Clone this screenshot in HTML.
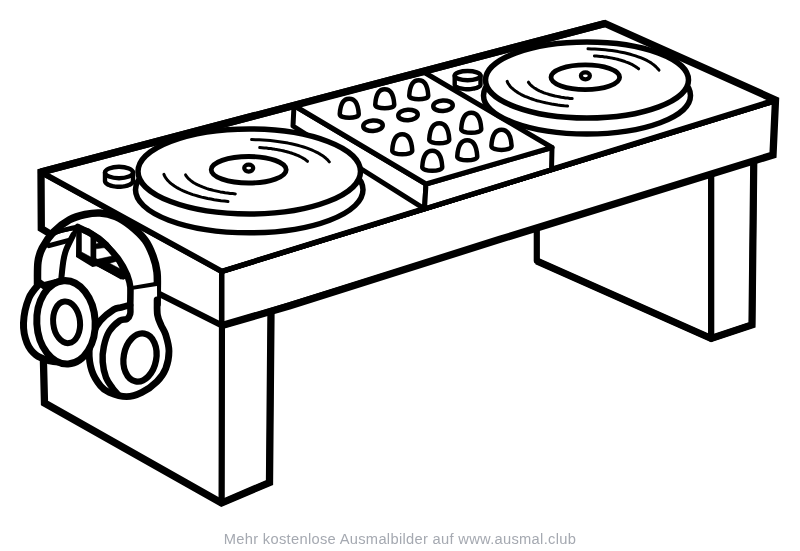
<!DOCTYPE html>
<html><head><meta charset="utf-8"><title>DJ Pult Ausmalbild</title>
<style>
html,body{margin:0;padding:0;background:#fff;}
body{width:800px;height:551px;overflow:hidden;position:relative;font-family:"Liberation Sans",sans-serif;}
svg{position:absolute;left:0;top:0;display:block}
.cap{position:absolute;left:0;width:800px;top:530.5px;text-align:center;font-size:14.7px;line-height:17px;color:#a5a9b1;opacity:0.999;will-change:transform;letter-spacing:0.3px;white-space:nowrap}
</style></head><body>
<svg width="800" height="551" viewBox="0 0 800 551">
<polygon points="536.8,225.0 536.8,261.0 711.2,338.5 711.2,172.0" fill="#fff" stroke="#000" stroke-width="6.2" stroke-linejoin="round"/>
<polygon points="711.2,172.0 753.8,158.0 752.0,324.8 711.2,338.5" fill="#fff" stroke="#000" stroke-width="6.2" stroke-linejoin="round"/>
<polyline points="536.8,261.0 711.2,338.5 752.0,324.8 753.8,158.0" fill="none" stroke="#000" stroke-width="7.2" stroke-linecap="butt" stroke-linejoin="miter"/>
<polygon points="222.0,325.5 271.0,311.0 269.5,482.5 221.5,503.0" fill="#fff" stroke="#000" stroke-width="6" stroke-linejoin="round"/>
<polygon points="41.0,172.0 222.0,271.3 221.5,503.0 44.5,403.0" fill="#fff"/>
<polyline points="41.0,172.0 222.0,271.3 221.5,503.0" fill="none" stroke="#000" stroke-width="6" stroke-linecap="round" stroke-linejoin="round"/>
<polygon points="222.0,271.3 775.0,101.0 773.0,155.0 222.0,325.5" fill="#fff" stroke="#000" stroke-width="5" stroke-linejoin="round"/>
<polygon points="41.0,172.0 605.0,23.5 775.5,100.0 222.0,271.3" fill="#fff" stroke="#000" stroke-width="5.5" stroke-linejoin="round"/>
<polyline points="222.0,271.3 775.0,101.0" fill="none" stroke="#000" stroke-width="5" stroke-linecap="round" stroke-linejoin="round"/>
<polyline points="150.0,289.3 222.0,325.5" fill="none" stroke="#000" stroke-width="6" stroke-linecap="round" stroke-linejoin="round"/>
<polyline points="271.0,311.0 269.5,482.5 221.5,503.0 44.5,403.0 43.2,352.0" fill="none" stroke="#000" stroke-width="7.3" stroke-linecap="butt" stroke-linejoin="miter"/>
<polyline points="52.0,235.0 41.3,228.5 41.0,172.0 605.0,23.5 775.5,100.0 773.0,155.0 500.0,239.3 290.0,305.7 222.0,325.5" fill="none" stroke="#000" stroke-width="7.3" stroke-linecap="butt" stroke-linejoin="miter"/>
<polygon points="294.0,105.5 426.0,184.0 424.5,208.8 293.0,126.0" fill="#fff" stroke="#000" stroke-width="5" stroke-linejoin="round"/>
<polygon points="426.0,184.0 552.0,147.5 551.5,169.7 424.5,208.8" fill="#fff" stroke="#000" stroke-width="5" stroke-linejoin="round"/>
<polygon points="294.0,105.5 424.5,72.5 552.0,147.5 426.0,184.0" fill="#fff" stroke="#000" stroke-width="5" stroke-linejoin="round"/>
<polyline points="222.0,271.3 775.0,101.0" fill="none" stroke="#000" stroke-width="5" stroke-linecap="round" stroke-linejoin="round"/>
<polyline points="41.0,172.0 605.0,23.5" fill="none" stroke="#000" stroke-width="7.3" stroke-linecap="butt" stroke-linejoin="round"/>
<path d="M339.75 114.05 C340.25 105.75 342.75 98.75 349.25 98.75 C355.75 98.75 358.25 105.75 358.75 114.05 C359.05 119.05 339.45 119.05 339.75 114.05Z" fill="#fff" stroke="#000" stroke-width="4.5" stroke-linecap="round" stroke-linejoin="round"/>
<path d="M375.25 104.55 C375.75 96.25 378.25 89.25 384.75 89.25 C391.25 89.25 393.75 96.25 394.25 104.55 C394.55 109.55 374.95 109.55 375.25 104.55Z" fill="#fff" stroke="#000" stroke-width="4.5" stroke-linecap="round" stroke-linejoin="round"/>
<path d="M409.25 95.55 C409.75 87.25 412.25 80.25 418.75 80.25 C425.25 80.25 427.75 87.25 428.25 95.55 C428.55 100.55 408.95 100.55 409.25 95.55Z" fill="#fff" stroke="#000" stroke-width="4.5" stroke-linecap="round" stroke-linejoin="round"/>
<path d="M392.25 150.36 C392.78 141.62 395.41 134.25 402.25 134.25 C409.09 134.25 411.72 141.62 412.25 150.36 C412.57 155.62 391.93 155.62 392.25 150.36Z" fill="#fff" stroke="#000" stroke-width="4.5" stroke-linecap="round" stroke-linejoin="round"/>
<path d="M429.25 139.36 C429.78 130.62 432.41 123.25 439.25 123.25 C446.09 123.25 448.72 130.62 449.25 139.36 C449.57 144.62 428.93 144.62 429.25 139.36Z" fill="#fff" stroke="#000" stroke-width="4.5" stroke-linecap="round" stroke-linejoin="round"/>
<path d="M461.25 128.86 C461.78 120.12 464.41 112.75 471.25 112.75 C478.09 112.75 480.72 120.12 481.25 128.86 C481.57 134.12 460.93 134.12 461.25 128.86Z" fill="#fff" stroke="#000" stroke-width="4.5" stroke-linecap="round" stroke-linejoin="round"/>
<path d="M422.25 166.86 C422.78 158.12 425.41 150.75 432.25 150.75 C439.09 150.75 441.72 158.12 442.25 166.86 C442.57 172.12 421.93 172.12 422.25 166.86Z" fill="#fff" stroke="#000" stroke-width="4.5" stroke-linecap="round" stroke-linejoin="round"/>
<path d="M457.25 156.36 C457.78 147.62 460.41 140.25 467.25 140.25 C474.09 140.25 476.72 147.62 477.25 156.36 C477.57 161.62 456.93 161.62 457.25 156.36Z" fill="#fff" stroke="#000" stroke-width="4.5" stroke-linecap="round" stroke-linejoin="round"/>
<path d="M491.40 145.92 C491.93 137.09 494.59 129.65 501.50 129.65 C508.41 129.65 511.07 137.09 511.60 145.92 C511.92 151.23 491.08 151.23 491.40 145.92Z" fill="#fff" stroke="#000" stroke-width="4.5" stroke-linecap="round" stroke-linejoin="round"/>
<ellipse cx="373" cy="125.75" rx="9.75" ry="5.3" fill="#fff" stroke="#000" stroke-width="4.5" transform="rotate(-3 373 125.75)"/>
<ellipse cx="408" cy="115" rx="9.75" ry="5.3" fill="#fff" stroke="#000" stroke-width="4.5" transform="rotate(-3 408 115)"/>
<ellipse cx="443" cy="105.75" rx="9.75" ry="5.3" fill="#fff" stroke="#000" stroke-width="4.5" transform="rotate(-3 443 105.75)"/>
<ellipse cx="249.25" cy="189.8" rx="113.75" ry="43.0" fill="#fff" stroke="#000" stroke-width="5.5"/>
<ellipse cx="249.25" cy="171.5" rx="111.25" ry="42.5" fill="#fff" stroke="#000" stroke-width="5.5"/>
<ellipse cx="248.7" cy="169.75" rx="37.5" ry="13.25" fill="#fff" stroke="#000" stroke-width="4.8"/>
<ellipse cx="248.7" cy="168.1" rx="4.5" ry="3.5" fill="#fff" stroke="#000" stroke-width="4.2"/>
<path d="M163.9 174.3 L164.5 175.7 L165.2 177.0 L166.1 178.4 L167.1 179.7 L168.3 181.0 L169.6 182.3 L171.1 183.6 L172.7 184.8 L174.4 186.0 L176.3 187.2 L178.3 188.4 L180.4 189.5 L182.7 190.6 L185.0 191.6 L187.5 192.7 L190.1 193.6 L192.8 194.6 L195.6 195.4 L198.5 196.3 L201.5 197.1 L204.6 197.8 L207.7 198.5 L211.0 199.1 L214.2 199.7 L217.6 200.2 L221.0 200.7 L224.5 201.1 L228.0 201.5" fill="none" stroke="#000" stroke-width="3" stroke-linecap="round" stroke-linejoin="round"/>
<path d="M185.6 174.9 L186.2 175.9 L186.9 176.8 L187.7 177.8 L188.6 178.8 L189.7 179.7 L190.8 180.6 L192.0 181.5 L193.3 182.4 L194.7 183.3 L196.2 184.1 L197.8 184.9 L199.5 185.7 L201.2 186.4 L203.1 187.2 L205.0 187.9 L207.0 188.6 L209.0 189.2 L211.2 189.8 L213.4 190.4 L215.6 190.9 L217.9 191.4 L220.3 191.9 L222.7 192.3 L225.1 192.7 L227.6 193.0 L230.1 193.4 L232.7 193.6 L235.3 193.9" fill="none" stroke="#000" stroke-width="3" stroke-linecap="round" stroke-linejoin="round"/>
<path d="M251.6 139.6 L255.4 139.7 L259.2 139.8 L262.9 140.0 L266.7 140.3 L270.3 140.6 L274.0 141.0 L277.6 141.4 L281.1 141.9 L284.6 142.5 L288.0 143.1 L291.3 143.8 L294.5 144.5 L297.6 145.3 L300.6 146.1 L303.6 147.0 L306.4 147.9 L309.0 148.9 L311.6 149.9 L314.0 151.0 L316.3 152.1 L318.5 153.2 L320.5 154.4 L322.3 155.6 L324.1 156.8 L325.6 158.0 L327.0 159.3 L328.2 160.6 L329.3 161.9" fill="none" stroke="#000" stroke-width="3" stroke-linecap="round" stroke-linejoin="round"/>
<path d="M259.7 147.6 L262.0 147.7 L264.2 147.9 L266.4 148.1 L268.6 148.4 L270.8 148.6 L272.9 148.9 L275.0 149.3 L277.1 149.6 L279.1 150.0 L281.1 150.4 L283.0 150.8 L284.9 151.3 L286.8 151.7 L288.6 152.2 L290.4 152.8 L292.1 153.3 L293.7 153.9 L295.3 154.5 L296.8 155.1 L298.3 155.7 L299.7 156.4 L301.0 157.0 L302.3 157.7 L303.5 158.4 L304.6 159.1 L305.6 159.8 L306.6 160.6 L307.5 161.3" fill="none" stroke="#000" stroke-width="3" stroke-linecap="round" stroke-linejoin="round"/>
<ellipse cx="587.0" cy="95.5" rx="103.5" ry="38.5" fill="#fff" stroke="#000" stroke-width="5.5"/>
<ellipse cx="587" cy="80" rx="101.5" ry="38" fill="#fff" stroke="#000" stroke-width="5.5"/>
<ellipse cx="585.3" cy="77.3" rx="34.3" ry="12.4" fill="#fff" stroke="#000" stroke-width="4.8"/>
<ellipse cx="585.4" cy="75.8" rx="4.5" ry="3.5" fill="#fff" stroke="#000" stroke-width="4.2"/>
<path d="M507.2 81.4 L507.7 82.7 L508.4 83.9 L509.3 85.1 L510.2 86.4 L511.3 87.6 L512.6 88.7 L514.0 89.9 L515.5 91.0 L517.1 92.1 L518.9 93.2 L520.8 94.3 L522.8 95.3 L524.9 96.3 L527.2 97.2 L529.5 98.2 L531.9 99.0 L534.5 99.9 L537.1 100.7 L539.9 101.4 L542.7 102.1 L545.6 102.8 L548.5 103.4 L551.6 104.0 L554.7 104.5 L557.8 105.0 L561.0 105.4 L564.3 105.8 L567.6 106.1" fill="none" stroke="#000" stroke-width="3" stroke-linecap="round" stroke-linejoin="round"/>
<path d="M528.4 82.2 L529.0 83.1 L529.7 83.9 L530.4 84.7 L531.2 85.5 L532.2 86.3 L533.2 87.1 L534.3 87.9 L535.4 88.6 L536.7 89.4 L538.0 90.1 L539.4 90.8 L540.9 91.5 L542.4 92.1 L544.0 92.8 L545.7 93.4 L547.5 93.9 L549.3 94.5 L551.1 95.0 L553.0 95.5 L555.0 96.0 L557.0 96.4 L559.1 96.8 L561.2 97.2 L563.3 97.5 L565.5 97.9 L567.7 98.1 L569.9 98.4 L572.2 98.6" fill="none" stroke="#000" stroke-width="3" stroke-linecap="round" stroke-linejoin="round"/>
<path d="M588.0 48.8 L591.4 48.9 L594.9 49.0 L598.4 49.2 L601.8 49.5 L605.2 49.8 L608.5 50.2 L611.8 50.6 L615.0 51.1 L618.2 51.6 L621.3 52.2 L624.4 52.8 L627.3 53.5 L630.2 54.3 L632.9 55.1 L635.6 55.9 L638.2 56.8 L640.6 57.7 L643.0 58.7 L645.2 59.7 L647.3 60.7 L649.2 61.8 L651.1 62.9 L652.7 64.1 L654.3 65.3 L655.7 66.5 L656.9 67.7 L658.0 68.9 L659.0 70.2" fill="none" stroke="#000" stroke-width="3" stroke-linecap="round" stroke-linejoin="round"/>
<path d="M594.4 55.9 L596.4 56.0 L598.5 56.2 L600.5 56.4 L602.5 56.6 L604.5 56.9 L606.4 57.1 L608.4 57.4 L610.3 57.8 L612.1 58.1 L614.0 58.5 L615.8 58.9 L617.5 59.3 L619.2 59.8 L620.9 60.2 L622.5 60.7 L624.1 61.2 L625.6 61.8 L627.1 62.3 L628.5 62.9 L629.9 63.5 L631.2 64.1 L632.4 64.7 L633.6 65.4 L634.7 66.1 L635.8 66.7 L636.8 67.4 L637.7 68.1 L638.6 68.8" fill="none" stroke="#000" stroke-width="3" stroke-linecap="round" stroke-linejoin="round"/>
<path d="M105.0 172.5 L105.0 181.0 L105.1 181.6 L105.4 182.3 L105.8 182.9 L106.4 183.5 L107.1 184.0 L108.1 184.6 L109.1 185.0 L110.3 185.5 L111.6 185.8 L112.9 186.1 L114.4 186.4 L115.9 186.6 L117.4 186.7 L119.0 186.7 L120.6 186.7 L122.1 186.6 L123.6 186.4 L125.1 186.1 L126.4 185.8 L127.7 185.5 L128.9 185.0 L129.9 184.6 L130.9 184.0 L131.6 183.5 L132.2 182.9 L132.6 182.3 L132.9 181.6 L133.0 181.0 L133.0 172.5" fill="#fff" stroke="#000" stroke-width="4.4" stroke-linecap="round" stroke-linejoin="round"/>
<ellipse cx="119" cy="172.5" rx="14" ry="5.7" fill="#fff" stroke="#000" stroke-width="4.4"/>
<path d="M454.7 75.6 L454.7 84.6 L454.8 85.1 L455.0 85.6 L455.4 86.1 L456.0 86.6 L456.7 87.0 L457.5 87.5 L458.5 87.9 L459.6 88.2 L460.7 88.5 L462.0 88.7 L463.3 88.9 L464.7 89.1 L466.2 89.2 L467.6 89.2 L469.0 89.2 L470.5 89.1 L471.9 88.9 L473.2 88.7 L474.5 88.5 L475.6 88.2 L476.7 87.9 L477.7 87.5 L478.5 87.0 L479.2 86.6 L479.8 86.1 L480.2 85.6 L480.4 85.1 L480.5 84.6 L480.5 75.6" fill="#fff" stroke="#000" stroke-width="4.4" stroke-linecap="round" stroke-linejoin="round"/>
<ellipse cx="467.6" cy="75.6" rx="12.9" ry="4.6" fill="#fff" stroke="#000" stroke-width="4.4"/>
<path d="M37.5 286.0 C37.6 282.0 37.2 268.3 38.0 262.0 C38.8 255.7 40.5 252.2 42.3 248.0 C44.0 243.8 47.5 238.8 48.5 237.0L49.8 236.2 C50.8 235.5 53.0 233.5 56.0 232.3 C59.0 231.1 64.4 229.9 68.0 229.0 C71.6 228.1 76.1 227.3 77.7 227.0L73.2 235.0 C72.0 237.5 67.7 245.7 66.0 250.2 C64.3 254.7 64.0 257.0 63.2 262.0 C62.4 267.0 61.5 277.0 61.2 280.0Z" fill="#fff" stroke="#000" stroke-width="4.6" stroke-linecap="round" stroke-linejoin="round"/>
<path d="M73.2 235.0 C72.0 237.5 67.7 245.7 66.0 250.2 C64.3 254.7 64.0 257.0 63.2 262.0 C62.4 267.0 61.5 277.0 61.2 280.0" fill="none" stroke="#000" stroke-width="6" stroke-linecap="round" stroke-linejoin="round"/>
<path d="M53.5 232.0 C56.2 230.0 64.2 222.7 69.5 219.8 C74.8 216.9 79.9 215.6 85.0 214.5 C90.1 213.4 94.9 212.7 100.0 213.0 C105.1 213.3 110.4 214.4 115.5 216.5 C120.6 218.6 125.6 221.9 130.5 225.8 C135.4 229.7 141.2 235.0 145.0 240.0 C148.8 245.0 151.0 250.7 153.0 256.0 C155.0 261.3 156.3 266.3 157.0 272.0 C157.7 277.7 157.3 284.7 157.3 290.0 C157.3 295.3 157.1 301.7 157.1 304.0L130.3 304.0 C130.4 301.7 131.3 294.8 130.8 290.0 C130.3 285.2 129.3 280.2 127.2 275.0 C125.1 269.8 121.7 263.9 118.2 259.0 C114.7 254.1 110.5 249.5 106.3 245.5 C102.1 241.5 97.6 238.1 92.8 235.0 C88.0 231.9 80.2 228.2 77.7 226.8L77.7 227.0 C76.1 227.3 71.6 228.1 68.0 229.0 C64.4 229.9 59.0 231.1 56.0 232.3 C53.0 233.5 50.8 235.5 49.8 236.2Z" fill="#fff" stroke="#000" stroke-width="4.6" stroke-linecap="round" stroke-linejoin="round"/>
<path d="M37.5 284.0 C37.6 280.3 37.2 268.0 38.0 262.0 C38.8 256.0 39.7 253.0 42.3 248.0 C44.9 243.0 49.0 236.7 53.5 232.0 C58.0 227.3 64.2 222.7 69.5 219.8 C74.8 216.9 79.9 215.6 85.0 214.5 C90.1 213.4 94.9 212.7 100.0 213.0 C105.1 213.3 110.4 214.4 115.5 216.5 C120.6 218.6 125.6 221.9 130.5 225.8 C135.4 229.7 141.2 235.0 145.0 240.0 C148.8 245.0 151.0 250.7 153.0 256.0 C155.0 261.3 156.3 266.3 157.0 272.0 C157.7 277.7 157.3 284.7 157.3 290.0 C157.3 295.3 157.1 301.7 157.1 304.0" fill="none" stroke="#000" stroke-width="7.5" stroke-linecap="round" stroke-linejoin="round"/>
<polyline points="49.0,245.7 68.7,240.4" fill="none" stroke="#000" stroke-width="5" stroke-linecap="round" stroke-linejoin="round"/>
<polyline points="131.0,289.0 157.0,284.5" fill="none" stroke="#000" stroke-width="5.5" stroke-linecap="round" stroke-linejoin="round"/>
<polygon points="77.3,226.0 89.0,229.5 100.0,236.5 108.0,243.5 118.0,256.0 123.0,270.0 121.0,278.5 97.0,265.0 92.5,266.0 77.0,256.5" fill="#000" stroke="#000" stroke-width="2" stroke-linejoin="round"/>
<polygon points="81.5,232.1 90.8,236.3 90.8,257.0 81.5,252.0" fill="#fff" stroke="#000" stroke-width="0.5" stroke-linejoin="round"/>
<polygon points="96.0,248.8 105.2,247.6 112.4,256.0 96.0,259.6" fill="#fff" stroke="#000" stroke-width="0.5" stroke-linejoin="round"/>
<polygon points="109.6,263.2 116.8,261.2 120.0,268.8" fill="#fff" stroke="#000" stroke-width="0.5" stroke-linejoin="round"/>
<polygon points="96.0,240.0 100.0,242.4 96.0,244.0" fill="#fff" stroke="#000" stroke-width="0.5" stroke-linejoin="round"/>
<polyline points="93.0,260.5 123.0,276.0" fill="none" stroke="#000" stroke-width="7" stroke-linecap="round" stroke-linejoin="round"/>
<path d="M130.3 304.0 C130.4 301.7 131.3 294.8 130.8 290.0 C130.3 285.2 129.3 280.2 127.2 275.0 C125.1 269.8 121.7 263.9 118.2 259.0 C114.7 254.1 110.5 249.5 106.3 245.5 C102.1 241.5 97.6 238.1 92.8 235.0 C88.0 231.9 80.2 228.2 77.7 226.8" fill="none" stroke="#000" stroke-width="6.5" stroke-linecap="round" stroke-linejoin="round"/>
<polygon points="130.3,300.0 130.0,305.0 121.0,307.5 113.6,309.6 100.5,320.5 92.9,333.6 89.2,351.0 91.8,370.6 100.5,385.8 109.2,392.4 126.6,396.7 141.9,392.4 157.0,381.5 165.8,368.4 169.0,351.0 165.8,335.0 161.0,325.0 157.5,315.0 157.1,300.0 157.0,286.0 131.0,290.0" fill="#fff"/>
<path d="M130.0 305.0 C128.5 305.4 123.7 306.7 121.0 307.5 C118.3 308.3 117.0 307.4 113.6 309.6 C110.2 311.8 104.0 316.5 100.5 320.5 C97.0 324.5 94.8 328.5 92.9 333.6 C91.0 338.7 89.4 344.8 89.2 351.0 C89.0 357.2 89.9 364.8 91.8 370.6 C93.7 376.4 97.6 382.2 100.5 385.8 C103.4 389.4 104.9 390.6 109.2 392.4 C113.5 394.2 121.1 396.7 126.6 396.7 C132.0 396.7 136.8 394.9 141.9 392.4 C147.0 389.9 153.0 385.5 157.0 381.5 C161.0 377.5 163.8 373.5 165.8 368.4 C167.8 363.3 169.0 356.6 169.0 351.0 C169.0 345.4 167.1 339.3 165.8 335.0 C164.5 330.7 162.4 328.3 161.0 325.0 C159.6 321.7 158.2 319.2 157.5 315.0 C156.8 310.8 157.2 302.5 157.1 300.0" fill="none" stroke="#000" stroke-width="6.8" stroke-linecap="round" stroke-linejoin="round"/>
<path d="M130.5 290.0 C130.5 292.3 130.4 300.0 130.3 304.0 C130.2 308.0 130.8 311.5 130.2 314.0 C129.6 316.5 128.7 317.9 127.0 319.0 C125.3 320.1 123.0 318.4 120.0 320.5 C117.0 322.6 111.9 327.0 109.2 331.4 C106.5 335.8 104.9 341.5 103.8 346.6 C102.7 351.7 102.3 356.8 102.7 361.9 C103.1 367.0 104.3 372.8 105.9 377.1 C107.5 381.5 110.5 385.1 112.5 388.0 C114.5 390.9 117.1 393.4 118.0 394.5" fill="none" stroke="#000" stroke-width="6.5" stroke-linecap="round" stroke-linejoin="round"/>
<ellipse cx="140" cy="357.5" rx="16.3" ry="24.3" fill="#fff" stroke="#000" stroke-width="6.3" transform="rotate(10.3 140 357.5)"/>
<path d="M40.0 283.0 C38.2 285.5 31.8 291.3 29.0 298.0 C26.2 304.7 23.8 315.5 23.5 323.0 C23.2 330.5 24.9 337.7 27.0 343.0 C29.1 348.3 32.2 352.0 36.0 355.0 C39.8 358.0 46.0 359.8 50.0 361.0 C54.0 362.2 58.3 361.8 60.0 362.0 L64 300Z" fill="#fff" stroke="#000" stroke-width="7" stroke-linecap="round" stroke-linejoin="round"/>
<ellipse cx="66" cy="322.3" rx="29.2" ry="41.7" fill="#fff" stroke="#000" stroke-width="7" transform="rotate(-3 66 322.3)"/>
<ellipse cx="66.6" cy="322.3" rx="13.4" ry="20.9" fill="#fff" stroke="#000" stroke-width="6" transform="rotate(-6 66.6 322.3)"/>
</svg>
<div class="cap">Mehr kostenlose Ausmalbilder auf www.ausmal.club</div>
</body></html>
